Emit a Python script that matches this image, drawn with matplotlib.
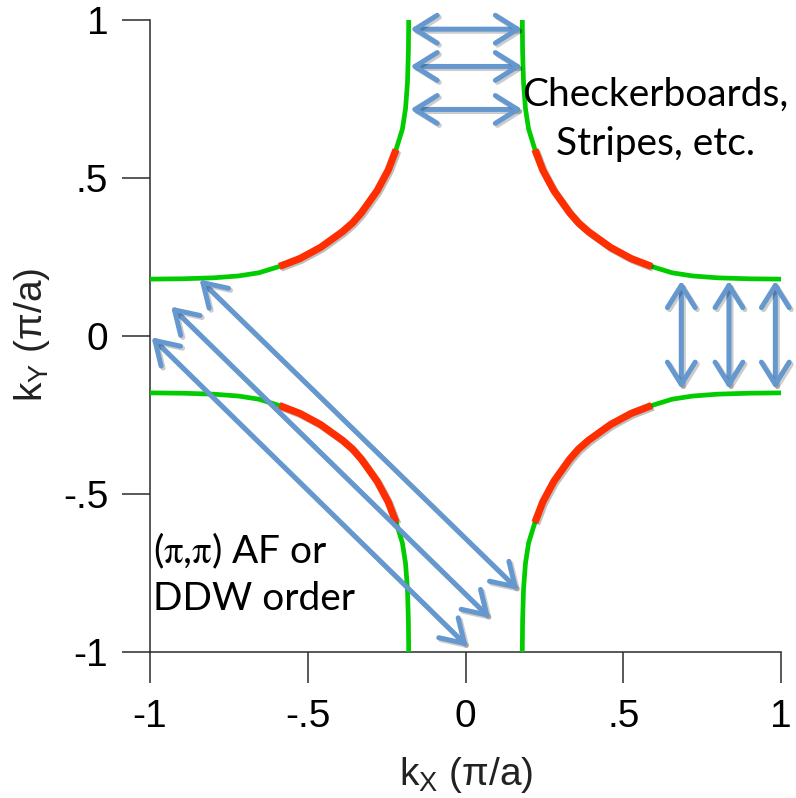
import matplotlib
matplotlib.use("Agg")
import matplotlib.pyplot as plt
import matplotlib.patheffects as pe
from matplotlib.patches import FancyArrowPatch
import numpy as np

# ---- data (units of pi/a) ----
# upper-right Fermi-surface arc; other arcs are its mirror images
arc_kx = [0.180, 0.181, 0.184, 0.190, 0.200, 0.220, 0.245, 0.280, 0.330, 0.358,
          0.390, 0.460, 0.525, 0.590, 0.655, 0.720, 0.800, 0.900, 1.000]
arc_ky = [1.000, 0.900, 0.800, 0.720, 0.655, 0.590, 0.525, 0.460, 0.390, 0.358,
          0.330, 0.280, 0.245, 0.220, 0.200, 0.190, 0.184, 0.181, 0.180]
red_first, red_last = 5, 13   # indices of the red (gapped) part of the arc
quadrant_signs = [(1, 1), (-1, 1), (-1, -1), (1, -1)]

# horizontal arrows (top): x start, x end, y
h_arrow_x0 = [-0.175, -0.175, -0.175]
h_arrow_x1 = [0.180, 0.180, 0.180]
h_arrow_y = [0.971, 0.853, 0.717]
# vertical arrows (right): x, y start, y end
v_arrow_x = [0.684, 0.835, 0.982]
v_arrow_y0 = [0.175, 0.175, 0.175]
v_arrow_y1 = [-0.168, -0.168, -0.168]
# diagonal (pi,pi) arrows: start and end points
d_arrow_x0 = [-0.995, -0.933, -0.843]
d_arrow_y0 = [-0.004, 0.093, 0.179]
d_arrow_x1 = [0.007, 0.078, 0.168]
d_arrow_y1 = [-0.983, -0.893, -0.804]

ticks = [-1, -0.5, 0, 0.5, 1]
x_ticklabels = ["-1", "-.5", "0", ".5", "1"]
y_ticklabels = ["-1", "-.5", "0", ".5", "1"]

GREEN = "#00CC00"
RED = "#FF2E00"
BLUE = "#6498CF"
AX_COL = "#2b2b2b"

plt.rcParams["mathtext.fontset"] = "custom"
plt.rcParams["mathtext.rm"] = "Liberation Sans"
plt.rcParams["mathtext.it"] = "Liberation Sans"

W, H = 796, 798
fig = plt.figure(figsize=(W / 100, H / 100), dpi=100)
ax = fig.add_axes([150 / W, (H - 652) / H, (781 - 150) / W, (652 - 20) / H])
ax.set_xlim(-1, 1)
ax.set_ylim(-1, 1)

for s in ["top", "right"]:
    ax.spines[s].set_visible(False)
for s in ["left", "bottom"]:
    ax.spines[s].set_color(AX_COL)
    ax.spines[s].set_linewidth(1.1)

ax.set_xticks(ticks)
ax.set_yticks(ticks)
ax.set_xticklabels(x_ticklabels, fontfamily="Liberation Sans", fontsize=28)
ax.set_yticklabels(y_ticklabels, fontfamily="Liberation Sans", fontsize=28)
ax.tick_params(axis="x", direction="out", length=22, width=1.1, color=AX_COL, pad=12)
ax.tick_params(axis="y", direction="out", length=20, width=1.1, color=AX_COL, pad=10)

kx = np.array(arc_kx)
ky = np.array(arc_ky)
red_shadow = [pe.SimpleLineShadow(offset=(1.2, -1.2), alpha=0.25), pe.Normal()]
for sx, sy in quadrant_signs:
    ax.plot(sx * kx, sy * ky, color=GREEN, lw=3.4, solid_capstyle="butt",
            clip_on=False, zorder=3)
    ax.plot(sx * kx[red_first:red_last + 1], sy * ky[red_first:red_last + 1],
            color=RED, lw=5.2, solid_capstyle="butt", clip_on=False, zorder=4,
            path_effects=red_shadow)

arrow_style = "<->,head_length=16,head_width=10"
arrow_fx = [pe.SimpleLineShadow(offset=(1.5, -1.5), alpha=0.2), pe.Normal()]


def arrow(x0, y0, x1, y1):
    p = FancyArrowPatch((x0, y0), (x1, y1), arrowstyle=arrow_style,
                        mutation_scale=1, color=BLUE, lw=3.6, shrinkA=0, shrinkB=0,
                        clip_on=False, zorder=5, path_effects=arrow_fx)
    ax.add_patch(p)


for x0, x1, y in zip(h_arrow_x0, h_arrow_x1, h_arrow_y):
    arrow(x0, y, x1, y)
for x, y0, y1 in zip(v_arrow_x, v_arrow_y0, v_arrow_y1):
    arrow(x, y0, x, y1)
for x0, y0, x1, y1 in zip(d_arrow_x0, d_arrow_y0, d_arrow_x1, d_arrow_y1):
    arrow(x0, y0, x1, y1)

ann_font = dict(fontfamily="Lato", fontsize=28, color="black", zorder=6)
ax.text(0.602, 0.728, "Checkerboards,", ha="center", va="baseline", **ann_font)
ax.text(0.602, 0.573, "Stripes, etc.", ha="center", va="baseline", **ann_font)
ax.text(-0.992, -0.718, r"($\mathrm{\pi}$,$\mathrm{\pi}$) AF or", ha="left",
        va="baseline", math_fontfamily="stix", **ann_font)
ax.text(-0.992, -0.867, "DDW order", ha="left", va="baseline", **ann_font)

fig.text(466 / W, (H - 785) / H, r"k$_{\mathrm{X}}$ (π/a)", ha="center",
         va="baseline", fontfamily="Liberation Sans", fontsize=28, color="#222222")
fig.text(32 / W, (H - 335) / H, r"k$_{\mathrm{Y}}$ (π/a)", ha="center",
         va="center", rotation=90, fontfamily="Liberation Sans", fontsize=28,
         color="#222222")

fig.savefig("out.png", dpi=100)
